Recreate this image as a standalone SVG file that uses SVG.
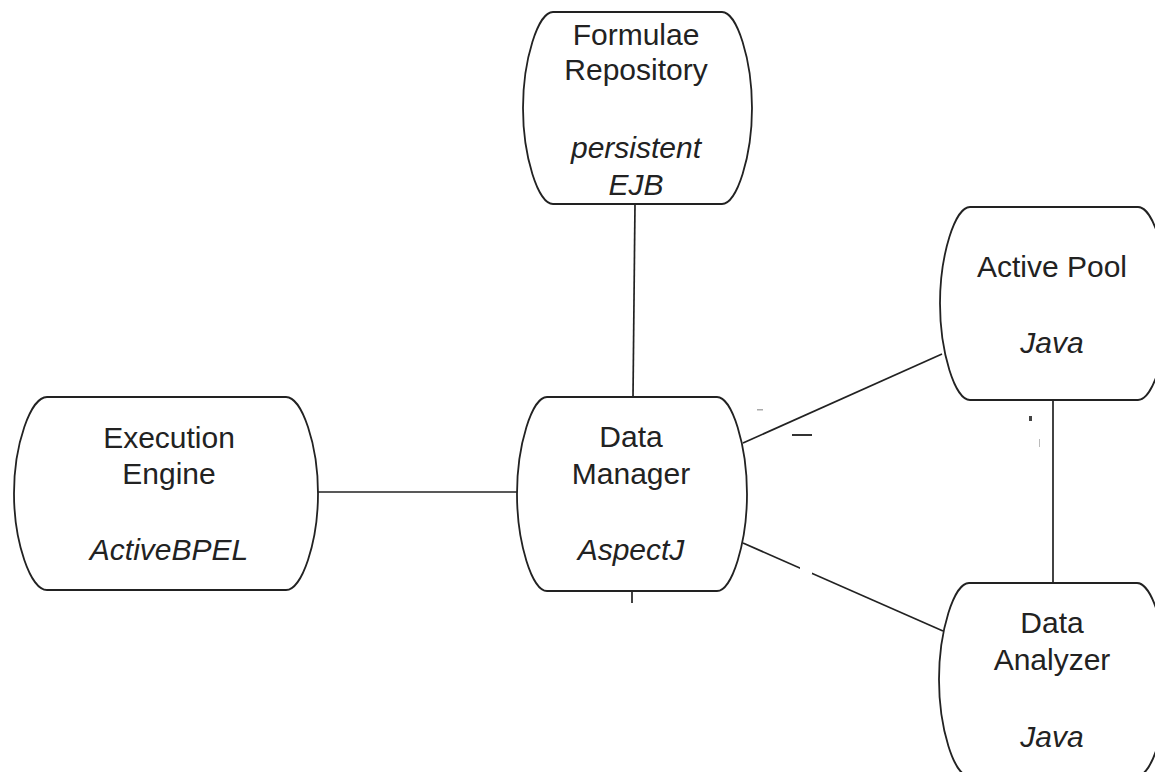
<svg xmlns="http://www.w3.org/2000/svg" width="1155" height="772" viewBox="0 0 1155 772">
<style>
.shape{fill:#fff;stroke:#222;stroke-width:1.8}
.edge{fill:none;stroke:#222;stroke-width:1.7}
.t{font-family:"Liberation Sans",Arial,sans-serif;font-size:30px;fill:#222;text-anchor:middle}
.i{font-style:italic}
</style>
<rect width="1155" height="772" fill="#fff"/>
<g id="connectors">
<line class="edge" x1="635" y1="204" x2="633" y2="397"/>
<line class="edge" x1="632" y1="591" x2="632" y2="603"/>
<line class="edge" x1="318" y1="492" x2="517" y2="492"/>
<line class="edge" x1="743" y1="443" x2="942" y2="354"/>
<line class="edge" x1="743" y1="543" x2="943" y2="631"/>
<line class="edge" x1="1053" y1="400" x2="1053" y2="583"/>
<rect x="800" y="560" width="12" height="14" fill="#fff"/>
<rect x="792" y="434" width="20" height="2" fill="#333"/>
<rect x="757" y="409" width="6" height="1.5" fill="#aaa"/>
<rect x="1029" y="416" width="3" height="5" fill="#444"/>
<rect x="1039" y="439" width="1" height="8" fill="#bbb"/>
</g>
<g id="formulae-repository">
<path class="shape" d="M553,12 H722 C737,12 752,60 752,108 C752,156 737,204 722,204 H553 C538,204 523,156 523,108 C523,60 538,12 553,12 Z"/>
<text class="t" x="636" y="45">Formulae</text>
<text class="t" x="636" y="80">Repository</text>
<text class="t i" x="636" y="158">persistent</text>
<text class="t i" x="636" y="195">EJB</text>
</g>
<g id="execution-engine">
<path class="shape" d="M47,397 H286 C302,397 318,445 318,493.5 C318,542 302,590 286,590 H47 C30.5,590 14,542 14,493.5 C14,445 30.5,397 47,397 Z"/>
<text class="t" x="169" y="448">Execution</text>
<text class="t" x="169" y="484">Engine</text>
<text class="t i" x="169" y="560">ActiveBPEL</text>
</g>
<g id="data-manager">
<path class="shape" d="M547,397 H717 C732,397 747,445.5 747,494 C747,542.5 732,591 717,591 H547 C532,591 517,542.5 517,494 C517,445.5 532,397 547,397 Z"/>
<text class="t" x="631" y="447">Data</text>
<text class="t" x="631" y="484">Manager</text>
<text class="t i" x="631" y="560">AspectJ</text>
</g>
<g id="active-pool">
<path class="shape" d="M970,207 H1138 C1153,207 1168,255 1168,303.5 C1168,352 1153,400 1138,400 H970 C955,400 940,352 940,303.5 C940,255 955,207 970,207 Z"/>
<text class="t" x="1052" y="277">Active Pool</text>
<text class="t i" x="1052" y="353">Java</text>
</g>
<g id="data-analyzer">
<path class="shape" d="M969,583 H1137 C1152,583 1167,631 1167,679.5 C1167,728 1152,776 1137,776 H969 C954,776 939,728 939,679.5 C939,631 954,583 969,583 Z"/>
<text class="t" x="1052" y="633">Data</text>
<text class="t" x="1052" y="670">Analyzer</text>
<text class="t i" x="1052" y="747">Java</text>
</g>
</svg>
